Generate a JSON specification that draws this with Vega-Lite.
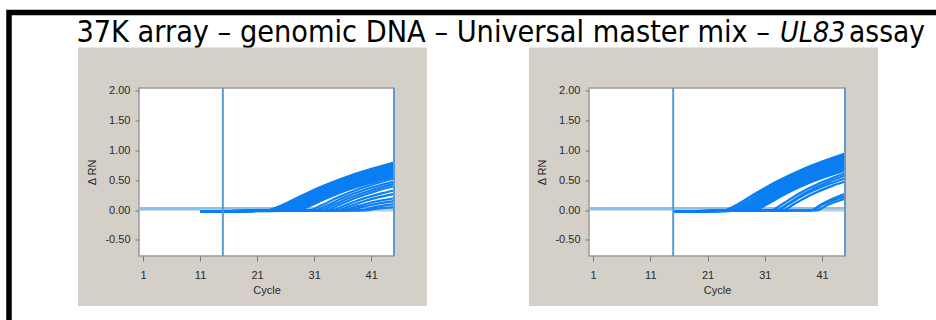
{
  "$schema": "https://vega.github.io/schema/vega-lite/v6.json",
  "width": 936,
  "height": 320,
  "autosize": "none",
  "padding": {"left": 9, "top": 12.5, "right": -9, "bottom": -12.5},
  "background": "white",
  "config": {
    "view": {"stroke": "#000000", "strokeWidth": 5.5, "fill": "white"},
    "axis": {
      "labelFont": "Liberation Sans",
      "labelFontSize": 11,
      "labelColor": "#2a2a2a",
      "titleFont": "Liberation Sans",
      "titleFontSize": 11,
      "titleFontWeight": "normal",
      "titleColor": "#2a2a2a",
      "tickColor": "#777777",
      "grid": false,
      "domain": false
    }
  },
  "datasets": {
    "run1": [
      {"well": "A00", "status": "flat", "cycle": 11, "drn": 0.0},
      {"well": "A00", "status": "flat", "cycle": 45, "drn": 0.0},
      {"well": "A01", "status": "amp", "cycle": 11, "drn": -0.02},
      {"well": "A01", "status": "amp", "cycle": 23, "drn": -0.005},
      {"well": "A01", "status": "amp", "cycle": 25, "drn": 0.064},
      {"well": "A01", "status": "amp", "cycle": 28, "drn": 0.204},
      {"well": "A01", "status": "amp", "cycle": 32, "drn": 0.384},
      {"well": "A01", "status": "amp", "cycle": 37, "drn": 0.57},
      {"well": "A01", "status": "amp", "cycle": 45, "drn": 0.8},
      {"well": "A02", "status": "amp", "cycle": 11, "drn": -0.02},
      {"well": "A02", "status": "amp", "cycle": 23, "drn": -0.005},
      {"well": "A02", "status": "amp", "cycle": 25, "drn": 0.062},
      {"well": "A02", "status": "amp", "cycle": 28, "drn": 0.196},
      {"well": "A02", "status": "amp", "cycle": 32, "drn": 0.37},
      {"well": "A02", "status": "amp", "cycle": 37, "drn": 0.549},
      {"well": "A02", "status": "amp", "cycle": 45, "drn": 0.77},
      {"well": "A03", "status": "amp", "cycle": 11, "drn": -0.02},
      {"well": "A03", "status": "amp", "cycle": 24, "drn": -0.005},
      {"well": "A03", "status": "amp", "cycle": 26, "drn": 0.066},
      {"well": "A03", "status": "amp", "cycle": 29, "drn": 0.21},
      {"well": "A03", "status": "amp", "cycle": 33, "drn": 0.39},
      {"well": "A03", "status": "amp", "cycle": 38, "drn": 0.577},
      {"well": "A03", "status": "amp", "cycle": 45, "drn": 0.78},
      {"well": "A04", "status": "amp", "cycle": 11, "drn": -0.02},
      {"well": "A04", "status": "amp", "cycle": 24, "drn": -0.005},
      {"well": "A04", "status": "amp", "cycle": 26, "drn": 0.063},
      {"well": "A04", "status": "amp", "cycle": 29, "drn": 0.2},
      {"well": "A04", "status": "amp", "cycle": 33, "drn": 0.37},
      {"well": "A04", "status": "amp", "cycle": 38, "drn": 0.548},
      {"well": "A04", "status": "amp", "cycle": 45, "drn": 0.74},
      {"well": "A05", "status": "amp", "cycle": 11, "drn": -0.02},
      {"well": "A05", "status": "amp", "cycle": 24, "drn": -0.005},
      {"well": "A05", "status": "amp", "cycle": 26, "drn": 0.06},
      {"well": "A05", "status": "amp", "cycle": 29, "drn": 0.192},
      {"well": "A05", "status": "amp", "cycle": 33, "drn": 0.355},
      {"well": "A05", "status": "amp", "cycle": 38, "drn": 0.525},
      {"well": "A05", "status": "amp", "cycle": 45, "drn": 0.71},
      {"well": "A06", "status": "amp", "cycle": 11, "drn": -0.02},
      {"well": "A06", "status": "amp", "cycle": 25, "drn": -0.005},
      {"well": "A06", "status": "amp", "cycle": 27, "drn": 0.068},
      {"well": "A06", "status": "amp", "cycle": 30, "drn": 0.214},
      {"well": "A06", "status": "amp", "cycle": 34, "drn": 0.394},
      {"well": "A06", "status": "amp", "cycle": 39, "drn": 0.578},
      {"well": "A06", "status": "amp", "cycle": 45, "drn": 0.75},
      {"well": "A07", "status": "amp", "cycle": 11, "drn": -0.02},
      {"well": "A07", "status": "amp", "cycle": 25, "drn": -0.005},
      {"well": "A07", "status": "amp", "cycle": 27, "drn": 0.062},
      {"well": "A07", "status": "amp", "cycle": 30, "drn": 0.197},
      {"well": "A07", "status": "amp", "cycle": 34, "drn": 0.362},
      {"well": "A07", "status": "amp", "cycle": 39, "drn": 0.531},
      {"well": "A07", "status": "amp", "cycle": 45, "drn": 0.69},
      {"well": "A08", "status": "amp", "cycle": 11, "drn": -0.02},
      {"well": "A08", "status": "amp", "cycle": 25, "drn": -0.005},
      {"well": "A08", "status": "amp", "cycle": 27, "drn": 0.059},
      {"well": "A08", "status": "amp", "cycle": 30, "drn": 0.188},
      {"well": "A08", "status": "amp", "cycle": 34, "drn": 0.347},
      {"well": "A08", "status": "amp", "cycle": 39, "drn": 0.508},
      {"well": "A08", "status": "amp", "cycle": 45, "drn": 0.66},
      {"well": "A09", "status": "amp", "cycle": 11, "drn": -0.02},
      {"well": "A09", "status": "amp", "cycle": 26, "drn": -0.005},
      {"well": "A09", "status": "amp", "cycle": 28, "drn": 0.069},
      {"well": "A09", "status": "amp", "cycle": 31, "drn": 0.216},
      {"well": "A09", "status": "amp", "cycle": 35, "drn": 0.396},
      {"well": "A09", "status": "amp", "cycle": 40, "drn": 0.576},
      {"well": "A09", "status": "amp", "cycle": 45, "drn": 0.72},
      {"well": "A10", "status": "amp", "cycle": 11, "drn": -0.02},
      {"well": "A10", "status": "amp", "cycle": 26, "drn": -0.005},
      {"well": "A10", "status": "amp", "cycle": 28, "drn": 0.061},
      {"well": "A10", "status": "amp", "cycle": 31, "drn": 0.192},
      {"well": "A10", "status": "amp", "cycle": 35, "drn": 0.352},
      {"well": "A10", "status": "amp", "cycle": 40, "drn": 0.512},
      {"well": "A10", "status": "amp", "cycle": 45, "drn": 0.64},
      {"well": "A11", "status": "amp", "cycle": 11, "drn": -0.02},
      {"well": "A11", "status": "amp", "cycle": 26, "drn": -0.005},
      {"well": "A11", "status": "amp", "cycle": 28, "drn": 0.059},
      {"well": "A11", "status": "amp", "cycle": 31, "drn": 0.183},
      {"well": "A11", "status": "amp", "cycle": 35, "drn": 0.336},
      {"well": "A11", "status": "amp", "cycle": 40, "drn": 0.488},
      {"well": "A11", "status": "amp", "cycle": 45, "drn": 0.61},
      {"well": "A12", "status": "amp", "cycle": 11, "drn": -0.02},
      {"well": "A12", "status": "amp", "cycle": 27, "drn": -0.005},
      {"well": "A12", "status": "amp", "cycle": 29, "drn": 0.068},
      {"well": "A12", "status": "amp", "cycle": 32, "drn": 0.218},
      {"well": "A12", "status": "amp", "cycle": 36, "drn": 0.394},
      {"well": "A12", "status": "amp", "cycle": 41, "drn": 0.564},
      {"well": "A12", "status": "amp", "cycle": 45, "drn": 0.68},
      {"well": "A13", "status": "amp", "cycle": 11, "drn": -0.02},
      {"well": "A13", "status": "amp", "cycle": 27, "drn": -0.005},
      {"well": "A13", "status": "amp", "cycle": 29, "drn": 0.058},
      {"well": "A13", "status": "amp", "cycle": 32, "drn": 0.186},
      {"well": "A13", "status": "amp", "cycle": 36, "drn": 0.336},
      {"well": "A13", "status": "amp", "cycle": 41, "drn": 0.481},
      {"well": "A13", "status": "amp", "cycle": 45, "drn": 0.58},
      {"well": "A14", "status": "amp", "cycle": 11, "drn": -0.02},
      {"well": "A14", "status": "amp", "cycle": 28, "drn": -0.005},
      {"well": "A14", "status": "amp", "cycle": 30, "drn": 0.068},
      {"well": "A14", "status": "amp", "cycle": 33, "drn": 0.211},
      {"well": "A14", "status": "amp", "cycle": 37, "drn": 0.378},
      {"well": "A14", "status": "amp", "cycle": 42, "drn": 0.539},
      {"well": "A14", "status": "amp", "cycle": 45, "drn": 0.62},
      {"well": "A15", "status": "amp", "cycle": 11, "drn": -0.02},
      {"well": "A15", "status": "amp", "cycle": 28, "drn": -0.005},
      {"well": "A15", "status": "amp", "cycle": 30, "drn": 0.062},
      {"well": "A15", "status": "amp", "cycle": 33, "drn": 0.19},
      {"well": "A15", "status": "amp", "cycle": 37, "drn": 0.342},
      {"well": "A15", "status": "amp", "cycle": 42, "drn": 0.487},
      {"well": "A15", "status": "amp", "cycle": 45, "drn": 0.56},
      {"well": "A16", "status": "amp", "cycle": 11, "drn": -0.02},
      {"well": "A16", "status": "amp", "cycle": 30, "drn": -0.005},
      {"well": "A16", "status": "amp", "cycle": 32, "drn": 0.069},
      {"well": "A16", "status": "amp", "cycle": 35, "drn": 0.207},
      {"well": "A16", "status": "amp", "cycle": 39, "drn": 0.36},
      {"well": "A16", "status": "amp", "cycle": 44, "drn": 0.506},
      {"well": "A16", "status": "amp", "cycle": 45, "drn": 0.53},
      {"well": "A17", "status": "amp", "cycle": 11, "drn": -0.02},
      {"well": "A17", "status": "amp", "cycle": 31, "drn": -0.005},
      {"well": "A17", "status": "amp", "cycle": 33, "drn": 0.067},
      {"well": "A17", "status": "amp", "cycle": 36, "drn": 0.202},
      {"well": "A17", "status": "amp", "cycle": 40, "drn": 0.346},
      {"well": "A17", "status": "amp", "cycle": 45, "drn": 0.48},
      {"well": "A18", "status": "amp", "cycle": 11, "drn": -0.02},
      {"well": "A18", "status": "amp", "cycle": 32, "drn": -0.005},
      {"well": "A18", "status": "amp", "cycle": 34, "drn": 0.07},
      {"well": "A18", "status": "amp", "cycle": 37, "drn": 0.198},
      {"well": "A18", "status": "amp", "cycle": 41, "drn": 0.334},
      {"well": "A18", "status": "amp", "cycle": 45, "drn": 0.44},
      {"well": "A19", "status": "amp", "cycle": 11, "drn": -0.02},
      {"well": "A19", "status": "amp", "cycle": 33, "drn": -0.005},
      {"well": "A19", "status": "amp", "cycle": 35, "drn": 0.072},
      {"well": "A19", "status": "amp", "cycle": 38, "drn": 0.196},
      {"well": "A19", "status": "amp", "cycle": 42, "drn": 0.324},
      {"well": "A19", "status": "amp", "cycle": 45, "drn": 0.4},
      {"well": "A20", "status": "amp", "cycle": 11, "drn": -0.02},
      {"well": "A20", "status": "amp", "cycle": 34, "drn": -0.005},
      {"well": "A20", "status": "amp", "cycle": 36, "drn": 0.066},
      {"well": "A20", "status": "amp", "cycle": 39, "drn": 0.175},
      {"well": "A20", "status": "amp", "cycle": 43, "drn": 0.285},
      {"well": "A20", "status": "amp", "cycle": 45, "drn": 0.33},
      {"well": "A21", "status": "amp", "cycle": 11, "drn": -0.02},
      {"well": "A21", "status": "amp", "cycle": 35, "drn": -0.005},
      {"well": "A21", "status": "amp", "cycle": 37, "drn": 0.059},
      {"well": "A21", "status": "amp", "cycle": 40, "drn": 0.157},
      {"well": "A21", "status": "amp", "cycle": 44, "drn": 0.251},
      {"well": "A21", "status": "amp", "cycle": 45, "drn": 0.27},
      {"well": "A22", "status": "amp", "cycle": 11, "drn": -0.02},
      {"well": "A22", "status": "amp", "cycle": 36, "drn": -0.005},
      {"well": "A22", "status": "amp", "cycle": 38, "drn": 0.05},
      {"well": "A22", "status": "amp", "cycle": 41, "drn": 0.128},
      {"well": "A22", "status": "amp", "cycle": 45, "drn": 0.2},
      {"well": "A23", "status": "amp", "cycle": 11, "drn": -0.02},
      {"well": "A23", "status": "amp", "cycle": 37, "drn": -0.005},
      {"well": "A23", "status": "amp", "cycle": 39, "drn": 0.043},
      {"well": "A23", "status": "amp", "cycle": 42, "drn": 0.105},
      {"well": "A23", "status": "amp", "cycle": 45, "drn": 0.15},
      {"well": "A24", "status": "amp", "cycle": 11, "drn": -0.02},
      {"well": "A24", "status": "amp", "cycle": 39, "drn": -0.005},
      {"well": "A24", "status": "amp", "cycle": 41, "drn": 0.039},
      {"well": "A24", "status": "amp", "cycle": 44, "drn": 0.088},
      {"well": "A24", "status": "amp", "cycle": 45, "drn": 0.1},
      {"well": "A25", "status": "amp", "cycle": 11, "drn": -0.02},
      {"well": "A25", "status": "amp", "cycle": 40, "drn": -0.005},
      {"well": "A25", "status": "amp", "cycle": 42, "drn": 0.024},
      {"well": "A25", "status": "amp", "cycle": 45, "drn": 0.05},
      {"well": "A26", "status": "amp", "cycle": 23, "drn": -0.005},
      {"well": "A26", "status": "amp", "cycle": 25, "drn": 0.063},
      {"well": "A26", "status": "amp", "cycle": 28, "drn": 0.2},
      {"well": "A26", "status": "amp", "cycle": 32, "drn": 0.377},
      {"well": "A26", "status": "amp", "cycle": 37, "drn": 0.56},
      {"well": "A26", "status": "amp", "cycle": 45, "drn": 0.785},
      {"well": "A27", "status": "amp", "cycle": 24, "drn": -0.005},
      {"well": "A27", "status": "amp", "cycle": 26, "drn": 0.065},
      {"well": "A27", "status": "amp", "cycle": 29, "drn": 0.205},
      {"well": "A27", "status": "amp", "cycle": 33, "drn": 0.38},
      {"well": "A27", "status": "amp", "cycle": 38, "drn": 0.562},
      {"well": "A27", "status": "amp", "cycle": 45, "drn": 0.76},
      {"well": "A28", "status": "amp", "cycle": 24, "drn": -0.005},
      {"well": "A28", "status": "amp", "cycle": 26, "drn": 0.062},
      {"well": "A28", "status": "amp", "cycle": 29, "drn": 0.196},
      {"well": "A28", "status": "amp", "cycle": 33, "drn": 0.363},
      {"well": "A28", "status": "amp", "cycle": 38, "drn": 0.537},
      {"well": "A28", "status": "amp", "cycle": 45, "drn": 0.725},
      {"well": "A29", "status": "amp", "cycle": 25, "drn": -0.005},
      {"well": "A29", "status": "amp", "cycle": 27, "drn": 0.065},
      {"well": "A29", "status": "amp", "cycle": 30, "drn": 0.205},
      {"well": "A29", "status": "amp", "cycle": 34, "drn": 0.378},
      {"well": "A29", "status": "amp", "cycle": 39, "drn": 0.554},
      {"well": "A29", "status": "amp", "cycle": 45, "drn": 0.72},
      {"well": "A30", "status": "amp", "cycle": 25, "drn": -0.005},
      {"well": "A30", "status": "amp", "cycle": 27, "drn": 0.061},
      {"well": "A30", "status": "amp", "cycle": 30, "drn": 0.192},
      {"well": "A30", "status": "amp", "cycle": 34, "drn": 0.354},
      {"well": "A30", "status": "amp", "cycle": 39, "drn": 0.52},
      {"well": "A30", "status": "amp", "cycle": 45, "drn": 0.675},
      {"well": "A31", "status": "amp", "cycle": 26, "drn": -0.005},
      {"well": "A31", "status": "amp", "cycle": 28, "drn": 0.065},
      {"well": "A31", "status": "amp", "cycle": 31, "drn": 0.204},
      {"well": "A31", "status": "amp", "cycle": 35, "drn": 0.374},
      {"well": "A31", "status": "amp", "cycle": 40, "drn": 0.544},
      {"well": "A31", "status": "amp", "cycle": 45, "drn": 0.68},
      {"well": "A32", "status": "amp", "cycle": 26, "drn": -0.005},
      {"well": "A32", "status": "amp", "cycle": 28, "drn": 0.06},
      {"well": "A32", "status": "amp", "cycle": 31, "drn": 0.188},
      {"well": "A32", "status": "amp", "cycle": 35, "drn": 0.344},
      {"well": "A32", "status": "amp", "cycle": 40, "drn": 0.5},
      {"well": "A32", "status": "amp", "cycle": 45, "drn": 0.625},
      {"well": "A33", "status": "amp", "cycle": 27, "drn": -0.005},
      {"well": "A33", "status": "amp", "cycle": 29, "drn": 0.063},
      {"well": "A33", "status": "amp", "cycle": 32, "drn": 0.202},
      {"well": "A33", "status": "amp", "cycle": 36, "drn": 0.365},
      {"well": "A33", "status": "amp", "cycle": 41, "drn": 0.523},
      {"well": "A33", "status": "amp", "cycle": 45, "drn": 0.63},
      {"well": "A34", "status": "amp", "cycle": 27, "drn": -0.005},
      {"well": "A34", "status": "amp", "cycle": 29, "drn": 0.06},
      {"well": "A34", "status": "amp", "cycle": 32, "drn": 0.192},
      {"well": "A34", "status": "amp", "cycle": 36, "drn": 0.348},
      {"well": "A34", "status": "amp", "cycle": 41, "drn": 0.498},
      {"well": "A34", "status": "amp", "cycle": 45, "drn": 0.6},
      {"well": "A35", "status": "amp", "cycle": 28, "drn": -0.005},
      {"well": "A35", "status": "amp", "cycle": 30, "drn": 0.065},
      {"well": "A35", "status": "amp", "cycle": 33, "drn": 0.201},
      {"well": "A35", "status": "amp", "cycle": 37, "drn": 0.36},
      {"well": "A35", "status": "amp", "cycle": 42, "drn": 0.513},
      {"well": "A35", "status": "amp", "cycle": 45, "drn": 0.59}
    ],
    "run2": [
      {"well": "B00", "status": "flat", "cycle": 15, "drn": 0.0},
      {"well": "B00", "status": "flat", "cycle": 45, "drn": 0.0},
      {"well": "B01", "status": "amp", "cycle": 15, "drn": -0.02},
      {"well": "B01", "status": "amp", "cycle": 24, "drn": -0.005},
      {"well": "B01", "status": "amp", "cycle": 26, "drn": 0.081},
      {"well": "B01", "status": "amp", "cycle": 29, "drn": 0.257},
      {"well": "B01", "status": "amp", "cycle": 33, "drn": 0.475},
      {"well": "B01", "status": "amp", "cycle": 38, "drn": 0.703},
      {"well": "B01", "status": "amp", "cycle": 45, "drn": 0.95},
      {"well": "B02", "status": "amp", "cycle": 15, "drn": -0.02},
      {"well": "B02", "status": "amp", "cycle": 24, "drn": -0.005},
      {"well": "B02", "status": "amp", "cycle": 26, "drn": 0.078},
      {"well": "B02", "status": "amp", "cycle": 29, "drn": 0.248},
      {"well": "B02", "status": "amp", "cycle": 33, "drn": 0.46},
      {"well": "B02", "status": "amp", "cycle": 38, "drn": 0.681},
      {"well": "B02", "status": "amp", "cycle": 45, "drn": 0.92},
      {"well": "B03", "status": "amp", "cycle": 15, "drn": -0.02},
      {"well": "B03", "status": "amp", "cycle": 25, "drn": -0.005},
      {"well": "B03", "status": "amp", "cycle": 27, "drn": 0.084},
      {"well": "B03", "status": "amp", "cycle": 30, "drn": 0.265},
      {"well": "B03", "status": "amp", "cycle": 34, "drn": 0.488},
      {"well": "B03", "status": "amp", "cycle": 39, "drn": 0.716},
      {"well": "B03", "status": "amp", "cycle": 45, "drn": 0.93},
      {"well": "B04", "status": "amp", "cycle": 15, "drn": -0.02},
      {"well": "B04", "status": "amp", "cycle": 25, "drn": -0.005},
      {"well": "B04", "status": "amp", "cycle": 27, "drn": 0.08},
      {"well": "B04", "status": "amp", "cycle": 30, "drn": 0.254},
      {"well": "B04", "status": "amp", "cycle": 34, "drn": 0.467},
      {"well": "B04", "status": "amp", "cycle": 39, "drn": 0.685},
      {"well": "B04", "status": "amp", "cycle": 45, "drn": 0.89},
      {"well": "B05", "status": "amp", "cycle": 15, "drn": -0.02},
      {"well": "B05", "status": "amp", "cycle": 25, "drn": -0.005},
      {"well": "B05", "status": "amp", "cycle": 27, "drn": 0.077},
      {"well": "B05", "status": "amp", "cycle": 30, "drn": 0.245},
      {"well": "B05", "status": "amp", "cycle": 34, "drn": 0.452},
      {"well": "B05", "status": "amp", "cycle": 39, "drn": 0.662},
      {"well": "B05", "status": "amp", "cycle": 45, "drn": 0.86},
      {"well": "B06", "status": "amp", "cycle": 15, "drn": -0.02},
      {"well": "B06", "status": "amp", "cycle": 26, "drn": -0.005},
      {"well": "B06", "status": "amp", "cycle": 28, "drn": 0.084},
      {"well": "B06", "status": "amp", "cycle": 31, "drn": 0.264},
      {"well": "B06", "status": "amp", "cycle": 35, "drn": 0.484},
      {"well": "B06", "status": "amp", "cycle": 40, "drn": 0.704},
      {"well": "B06", "status": "amp", "cycle": 45, "drn": 0.88},
      {"well": "B07", "status": "amp", "cycle": 15, "drn": -0.02},
      {"well": "B07", "status": "amp", "cycle": 26, "drn": -0.005},
      {"well": "B07", "status": "amp", "cycle": 28, "drn": 0.08},
      {"well": "B07", "status": "amp", "cycle": 31, "drn": 0.249},
      {"well": "B07", "status": "amp", "cycle": 35, "drn": 0.457},
      {"well": "B07", "status": "amp", "cycle": 40, "drn": 0.664},
      {"well": "B07", "status": "amp", "cycle": 45, "drn": 0.83},
      {"well": "B08", "status": "amp", "cycle": 15, "drn": -0.02},
      {"well": "B08", "status": "amp", "cycle": 26, "drn": -0.005},
      {"well": "B08", "status": "amp", "cycle": 28, "drn": 0.077},
      {"well": "B08", "status": "amp", "cycle": 31, "drn": 0.24},
      {"well": "B08", "status": "amp", "cycle": 35, "drn": 0.44},
      {"well": "B08", "status": "amp", "cycle": 40, "drn": 0.64},
      {"well": "B08", "status": "amp", "cycle": 45, "drn": 0.8},
      {"well": "B09", "status": "amp", "cycle": 15, "drn": -0.02},
      {"well": "B09", "status": "amp", "cycle": 27, "drn": -0.005},
      {"well": "B09", "status": "amp", "cycle": 29, "drn": 0.084},
      {"well": "B09", "status": "amp", "cycle": 32, "drn": 0.269},
      {"well": "B09", "status": "amp", "cycle": 36, "drn": 0.487},
      {"well": "B09", "status": "amp", "cycle": 41, "drn": 0.697},
      {"well": "B09", "status": "amp", "cycle": 45, "drn": 0.84},
      {"well": "B10", "status": "amp", "cycle": 15, "drn": -0.02},
      {"well": "B10", "status": "amp", "cycle": 27, "drn": -0.005},
      {"well": "B10", "status": "amp", "cycle": 29, "drn": 0.077},
      {"well": "B10", "status": "amp", "cycle": 32, "drn": 0.246},
      {"well": "B10", "status": "amp", "cycle": 36, "drn": 0.447},
      {"well": "B10", "status": "amp", "cycle": 41, "drn": 0.639},
      {"well": "B10", "status": "amp", "cycle": 45, "drn": 0.77},
      {"well": "B11", "status": "amp", "cycle": 15, "drn": -0.02},
      {"well": "B11", "status": "amp", "cycle": 27, "drn": -0.005},
      {"well": "B11", "status": "amp", "cycle": 29, "drn": 0.073},
      {"well": "B11", "status": "amp", "cycle": 32, "drn": 0.234},
      {"well": "B11", "status": "amp", "cycle": 36, "drn": 0.423},
      {"well": "B11", "status": "amp", "cycle": 41, "drn": 0.606},
      {"well": "B11", "status": "amp", "cycle": 45, "drn": 0.73},
      {"well": "B12", "status": "amp", "cycle": 15, "drn": -0.02},
      {"well": "B12", "status": "amp", "cycle": 28, "drn": -0.005},
      {"well": "B12", "status": "amp", "cycle": 30, "drn": 0.086},
      {"well": "B12", "status": "amp", "cycle": 33, "drn": 0.265},
      {"well": "B12", "status": "amp", "cycle": 37, "drn": 0.476},
      {"well": "B12", "status": "amp", "cycle": 42, "drn": 0.679},
      {"well": "B12", "status": "amp", "cycle": 45, "drn": 0.78},
      {"well": "B13", "status": "amp", "cycle": 15, "drn": -0.02},
      {"well": "B13", "status": "amp", "cycle": 28, "drn": -0.005},
      {"well": "B13", "status": "amp", "cycle": 30, "drn": 0.077},
      {"well": "B13", "status": "amp", "cycle": 33, "drn": 0.238},
      {"well": "B13", "status": "amp", "cycle": 37, "drn": 0.427},
      {"well": "B13", "status": "amp", "cycle": 42, "drn": 0.609},
      {"well": "B13", "status": "amp", "cycle": 45, "drn": 0.7},
      {"well": "B14", "status": "amp", "cycle": 15, "drn": -0.02},
      {"well": "B14", "status": "amp", "cycle": 29, "drn": -0.005},
      {"well": "B14", "status": "amp", "cycle": 31, "drn": 0.086},
      {"well": "B14", "status": "amp", "cycle": 34, "drn": 0.263},
      {"well": "B14", "status": "amp", "cycle": 38, "drn": 0.464},
      {"well": "B14", "status": "amp", "cycle": 43, "drn": 0.655},
      {"well": "B14", "status": "amp", "cycle": 45, "drn": 0.72},
      {"well": "B15", "status": "amp", "cycle": 15, "drn": -0.02},
      {"well": "B15", "status": "amp", "cycle": 29, "drn": -0.005},
      {"well": "B15", "status": "amp", "cycle": 31, "drn": 0.079},
      {"well": "B15", "status": "amp", "cycle": 34, "drn": 0.241},
      {"well": "B15", "status": "amp", "cycle": 38, "drn": 0.426},
      {"well": "B15", "status": "amp", "cycle": 43, "drn": 0.601},
      {"well": "B15", "status": "amp", "cycle": 45, "drn": 0.66},
      {"well": "B16", "status": "amp", "cycle": 15, "drn": -0.02},
      {"well": "B16", "status": "amp", "cycle": 32, "drn": -0.005},
      {"well": "B16", "status": "amp", "cycle": 34, "drn": 0.099},
      {"well": "B16", "status": "amp", "cycle": 37, "drn": 0.279},
      {"well": "B16", "status": "amp", "cycle": 41, "drn": 0.471},
      {"well": "B16", "status": "amp", "cycle": 45, "drn": 0.62},
      {"well": "B17", "status": "amp", "cycle": 15, "drn": -0.02},
      {"well": "B17", "status": "amp", "cycle": 33, "drn": -0.005},
      {"well": "B17", "status": "amp", "cycle": 35, "drn": 0.104},
      {"well": "B17", "status": "amp", "cycle": 38, "drn": 0.284},
      {"well": "B17", "status": "amp", "cycle": 42, "drn": 0.47},
      {"well": "B17", "status": "amp", "cycle": 45, "drn": 0.58},
      {"well": "B18", "status": "amp", "cycle": 15, "drn": -0.02},
      {"well": "B18", "status": "amp", "cycle": 33, "drn": -0.005},
      {"well": "B18", "status": "amp", "cycle": 35, "drn": 0.095},
      {"well": "B18", "status": "amp", "cycle": 38, "drn": 0.26},
      {"well": "B18", "status": "amp", "cycle": 42, "drn": 0.429},
      {"well": "B18", "status": "amp", "cycle": 45, "drn": 0.53},
      {"well": "B19", "status": "amp", "cycle": 15, "drn": -0.02},
      {"well": "B19", "status": "amp", "cycle": 34, "drn": -0.005},
      {"well": "B19", "status": "amp", "cycle": 36, "drn": 0.096},
      {"well": "B19", "status": "amp", "cycle": 39, "drn": 0.254},
      {"well": "B19", "status": "amp", "cycle": 43, "drn": 0.415},
      {"well": "B19", "status": "amp", "cycle": 45, "drn": 0.48},
      {"well": "B20", "status": "amp", "cycle": 15, "drn": -0.02},
      {"well": "B20", "status": "amp", "cycle": 39, "drn": -0.005},
      {"well": "B20", "status": "amp", "cycle": 41, "drn": 0.105},
      {"well": "B20", "status": "amp", "cycle": 44, "drn": 0.238},
      {"well": "B20", "status": "amp", "cycle": 45, "drn": 0.27},
      {"well": "B21", "status": "amp", "cycle": 15, "drn": -0.02},
      {"well": "B21", "status": "amp", "cycle": 39, "drn": -0.005},
      {"well": "B21", "status": "amp", "cycle": 41, "drn": 0.09},
      {"well": "B21", "status": "amp", "cycle": 44, "drn": 0.202},
      {"well": "B21", "status": "amp", "cycle": 45, "drn": 0.23},
      {"well": "B22", "status": "amp", "cycle": 15, "drn": -0.02},
      {"well": "B22", "status": "amp", "cycle": 40, "drn": -0.005},
      {"well": "B22", "status": "amp", "cycle": 42, "drn": 0.089},
      {"well": "B22", "status": "amp", "cycle": 45, "drn": 0.19},
      {"well": "B23", "status": "amp", "cycle": 24, "drn": -0.005},
      {"well": "B23", "status": "amp", "cycle": 26, "drn": 0.079},
      {"well": "B23", "status": "amp", "cycle": 29, "drn": 0.252},
      {"well": "B23", "status": "amp", "cycle": 33, "drn": 0.468},
      {"well": "B23", "status": "amp", "cycle": 38, "drn": 0.692},
      {"well": "B23", "status": "amp", "cycle": 45, "drn": 0.935},
      {"well": "B24", "status": "amp", "cycle": 25, "drn": -0.005},
      {"well": "B24", "status": "amp", "cycle": 27, "drn": 0.082},
      {"well": "B24", "status": "amp", "cycle": 30, "drn": 0.259},
      {"well": "B24", "status": "amp", "cycle": 34, "drn": 0.478},
      {"well": "B24", "status": "amp", "cycle": 39, "drn": 0.701},
      {"well": "B24", "status": "amp", "cycle": 45, "drn": 0.91},
      {"well": "B25", "status": "amp", "cycle": 25, "drn": -0.005},
      {"well": "B25", "status": "amp", "cycle": 27, "drn": 0.079},
      {"well": "B25", "status": "amp", "cycle": 30, "drn": 0.249},
      {"well": "B25", "status": "amp", "cycle": 34, "drn": 0.459},
      {"well": "B25", "status": "amp", "cycle": 39, "drn": 0.674},
      {"well": "B25", "status": "amp", "cycle": 45, "drn": 0.875},
      {"well": "B26", "status": "amp", "cycle": 26, "drn": -0.005},
      {"well": "B26", "status": "amp", "cycle": 28, "drn": 0.082},
      {"well": "B26", "status": "amp", "cycle": 31, "drn": 0.257},
      {"well": "B26", "status": "amp", "cycle": 35, "drn": 0.47},
      {"well": "B26", "status": "amp", "cycle": 40, "drn": 0.684},
      {"well": "B26", "status": "amp", "cycle": 45, "drn": 0.855},
      {"well": "B27", "status": "amp", "cycle": 26, "drn": -0.005},
      {"well": "B27", "status": "amp", "cycle": 28, "drn": 0.078},
      {"well": "B27", "status": "amp", "cycle": 31, "drn": 0.245},
      {"well": "B27", "status": "amp", "cycle": 35, "drn": 0.448},
      {"well": "B27", "status": "amp", "cycle": 40, "drn": 0.652},
      {"well": "B27", "status": "amp", "cycle": 45, "drn": 0.815},
      {"well": "B28", "status": "amp", "cycle": 27, "drn": -0.005},
      {"well": "B28", "status": "amp", "cycle": 29, "drn": 0.081},
      {"well": "B28", "status": "amp", "cycle": 32, "drn": 0.258},
      {"well": "B28", "status": "amp", "cycle": 36, "drn": 0.467},
      {"well": "B28", "status": "amp", "cycle": 41, "drn": 0.668},
      {"well": "B28", "status": "amp", "cycle": 45, "drn": 0.805},
      {"well": "B29", "status": "amp", "cycle": 27, "drn": -0.005},
      {"well": "B29", "status": "amp", "cycle": 29, "drn": 0.075},
      {"well": "B29", "status": "amp", "cycle": 32, "drn": 0.24},
      {"well": "B29", "status": "amp", "cycle": 36, "drn": 0.435},
      {"well": "B29", "status": "amp", "cycle": 41, "drn": 0.623},
      {"well": "B29", "status": "amp", "cycle": 45, "drn": 0.75},
      {"well": "B30", "status": "amp", "cycle": 28, "drn": -0.005},
      {"well": "B30", "status": "amp", "cycle": 30, "drn": 0.081},
      {"well": "B30", "status": "amp", "cycle": 33, "drn": 0.252},
      {"well": "B30", "status": "amp", "cycle": 37, "drn": 0.451},
      {"well": "B30", "status": "amp", "cycle": 42, "drn": 0.644},
      {"well": "B30", "status": "amp", "cycle": 45, "drn": 0.74},
      {"well": "B31", "status": "amp", "cycle": 28, "drn": -0.005},
      {"well": "B31", "status": "amp", "cycle": 30, "drn": 0.079},
      {"well": "B31", "status": "amp", "cycle": 33, "drn": 0.245},
      {"well": "B31", "status": "amp", "cycle": 37, "drn": 0.439},
      {"well": "B31", "status": "amp", "cycle": 42, "drn": 0.626},
      {"well": "B31", "status": "amp", "cycle": 45, "drn": 0.72},
      {"well": "B32", "status": "amp", "cycle": 29, "drn": -0.005},
      {"well": "B32", "status": "amp", "cycle": 31, "drn": 0.083},
      {"well": "B32", "status": "amp", "cycle": 34, "drn": 0.252},
      {"well": "B32", "status": "amp", "cycle": 38, "drn": 0.445},
      {"well": "B32", "status": "amp", "cycle": 43, "drn": 0.628},
      {"well": "B32", "status": "amp", "cycle": 45, "drn": 0.69}
    ]
  },
  "layer": [
    {
      "data": {"values": [{}]},
      "layer": [
        {"mark": {"type": "text", "text": "37K array – genomic DNA – Universal master mix –", "x": 761, "y": 29.5, "align": "right", "baseline": "alphabetic", "font": "DejaVu Sans Condensed", "fontSize": 30.3, "color": "#000000"}},
        {"mark": {"type": "text", "text": "UL83", "x": 771, "y": 29.5, "align": "left", "baseline": "alphabetic", "font": "DejaVu Sans Condensed", "fontSize": 28.5, "fontStyle": "italic", "color": "#000000"}},
        {"mark": {"type": "text", "text": "assay", "x": 916, "y": 29.5, "align": "right", "baseline": "alphabetic", "font": "DejaVu Sans Condensed", "fontSize": 29.5, "color": "#000000"}}
      ]
    },
    {
      "layer": [
        {
          "data": {"values": [{}]},
          "mark": {"type": "rect", "fill": "#d4d0c8"},
          "encoding": {
            "x": {"datum": -10.39, "type": "quantitative", "scale": {"domain": [0.3, 45], "range": [130, 385], "nice": false, "zero": false}},
            "x2": {"datum": 50.78},
            "y": {"datum": -1.61, "type": "quantitative", "scale": {"domain": [-0.77, 2.05], "range": [243.5, 75.5], "nice": false, "zero": false}},
            "y2": {"datum": 2.73}
          }
        },
        {
          "data": {"values": [{}]},
          "mark": {"type": "rect", "fill": "white", "stroke": "#9a9a9a", "strokeWidth": 1.5},
          "encoding": {
            "x": {"datum": 0.3, "type": "quantitative"},
            "x2": {"datum": 45},
            "y": {"datum": -0.77, "type": "quantitative"},
            "y2": {"datum": 2.05}
          }
        },
        {
          "data": {"values": [{}]},
          "mark": {"type": "rule", "stroke": "#8fc0e8", "strokeWidth": 3.5},
          "encoding": {
            "x": {"datum": 0.3, "type": "quantitative"},
            "x2": {"datum": 45},
            "y": {"datum": 0.025, "type": "quantitative"}
          }
        },
        {
          "data": {"name": "run1"},
          "transform": [{"filter": "datum.status === 'flat'"}],
          "mark": {"type": "line", "stroke": "#c8c8c8", "strokeWidth": 2.5},
          "encoding": {
            "x": {"field": "cycle", "type": "quantitative"},
            "y": {"field": "drn", "type": "quantitative"},
            "detail": {"field": "well"}
          }
        },
        {
          "data": {"name": "run1"},
          "transform": [{"filter": "datum.status === 'amp'"}],
          "mark": {"type": "line", "stroke": "#0a7ef2", "strokeWidth": 2.2, "interpolate": "monotone"},
          "encoding": {
            "x": {"field": "cycle", "type": "quantitative", "axis": {"orient": "bottom", "offset": -76.5, "zindex": 2, "values": [1, 11, 21, 31, 41], "title": "Cycle", "tickSize": 5, "labelPadding": 8, "titlePadding": 4}},
            "y": {"field": "drn", "type": "quantitative", "axis": {"orient": "left", "offset": -130, "zindex": 2, "values": [-0.5, 0, 0.5, 1, 1.5, 2], "format": ".2f", "labelExpr": "replace(datum.label, '−', '-')", "title": "Δ RN", "tickSize": 4, "labelPadding": 5, "titlePadding": 7}},
            "detail": {"field": "well"}
          }
        },
        {
          "data": {"values": [{}]},
          "mark": {"type": "rule", "stroke": "#5b9bd0", "strokeWidth": 2},
          "encoding": {
            "x": {"datum": 15, "type": "quantitative"},
            "y": {"datum": -0.77, "type": "quantitative"},
            "y2": {"datum": 2.05}
          }
        },
        {
          "data": {"values": [{}]},
          "mark": {"type": "rule", "stroke": "#5b9bd0", "strokeWidth": 2},
          "encoding": {
            "x": {"datum": 45, "type": "quantitative"},
            "y": {"datum": -0.77, "type": "quantitative"},
            "y2": {"datum": 2.05}
          }
        }
      ]
    },
    {
      "layer": [
        {
          "data": {"values": [{}]},
          "mark": {"type": "rect", "fill": "#d4d0c8"},
          "encoding": {
            "x": {"datum": -10.18, "type": "quantitative", "scale": {"domain": [0.3, 45], "range": [580, 836], "nice": false, "zero": false}},
            "x2": {"datum": 50.76},
            "y": {"datum": -1.61, "type": "quantitative", "scale": {"domain": [-0.77, 2.05], "range": [243.5, 75.5], "nice": false, "zero": false}},
            "y2": {"datum": 2.73}
          }
        },
        {
          "data": {"values": [{}]},
          "mark": {"type": "rect", "fill": "white", "stroke": "#9a9a9a", "strokeWidth": 1.5},
          "encoding": {
            "x": {"datum": 0.3, "type": "quantitative"},
            "x2": {"datum": 45},
            "y": {"datum": -0.77, "type": "quantitative"},
            "y2": {"datum": 2.05}
          }
        },
        {
          "data": {"values": [{}]},
          "mark": {"type": "rule", "stroke": "#8fc0e8", "strokeWidth": 3.5},
          "encoding": {
            "x": {"datum": 0.3, "type": "quantitative"},
            "x2": {"datum": 45},
            "y": {"datum": 0.025, "type": "quantitative"}
          }
        },
        {
          "data": {"name": "run2"},
          "transform": [{"filter": "datum.status === 'flat'"}],
          "mark": {"type": "line", "stroke": "#c8c8c8", "strokeWidth": 2.5},
          "encoding": {
            "x": {"field": "cycle", "type": "quantitative"},
            "y": {"field": "drn", "type": "quantitative"},
            "detail": {"field": "well"}
          }
        },
        {
          "data": {"name": "run2"},
          "transform": [{"filter": "datum.status === 'amp'"}],
          "mark": {"type": "line", "stroke": "#0a7ef2", "strokeWidth": 2.2, "interpolate": "monotone"},
          "encoding": {
            "x": {"field": "cycle", "type": "quantitative", "axis": {"orient": "bottom", "offset": -76.5, "zindex": 2, "values": [1, 11, 21, 31, 41], "title": "Cycle", "tickSize": 5, "labelPadding": 8, "titlePadding": 4}},
            "y": {"field": "drn", "type": "quantitative", "axis": {"orient": "left", "offset": -580, "zindex": 2, "values": [-0.5, 0, 0.5, 1, 1.5, 2], "format": ".2f", "labelExpr": "replace(datum.label, '−', '-')", "title": "Δ RN", "tickSize": 4, "labelPadding": 5, "titlePadding": 7}},
            "detail": {"field": "well"}
          }
        },
        {
          "data": {"values": [{}]},
          "mark": {"type": "rule", "stroke": "#5b9bd0", "strokeWidth": 2},
          "encoding": {
            "x": {"datum": 15, "type": "quantitative"},
            "y": {"datum": -0.77, "type": "quantitative"},
            "y2": {"datum": 2.05}
          }
        },
        {
          "data": {"values": [{}]},
          "mark": {"type": "rule", "stroke": "#5b9bd0", "strokeWidth": 2},
          "encoding": {
            "x": {"datum": 45, "type": "quantitative"},
            "y": {"datum": -0.77, "type": "quantitative"},
            "y2": {"datum": 2.05}
          }
        }
      ]
    }
  ],
  "resolve": {"scale": {"x": "independent", "y": "independent"}, "axis": {"x": "independent", "y": "independent"}}
}
